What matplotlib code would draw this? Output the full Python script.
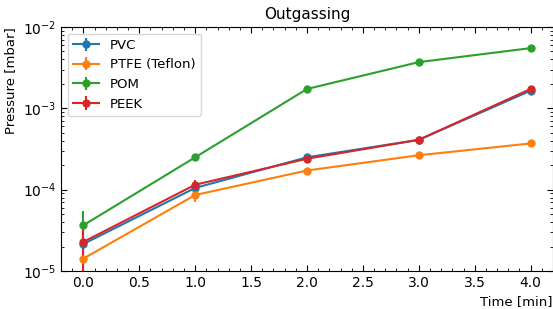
import numpy as np
import matplotlib
matplotlib.use('Agg')
import matplotlib.pyplot as plt
from matplotlib.ticker import MultipleLocator

t = [0, 1, 2, 3, 4]  # time [min]

pvc = [2.15e-5, 1.05e-4, 2.5e-4, 4.1e-4, 1.65e-3]
pvc_err = [3e-6, 8e-6, 1e-5, 1e-5, 5e-5]

ptfe = [1.42e-5, 8.6e-5, 1.72e-4, 2.65e-4, 3.7e-4]
ptfe_err = [3e-6, 1.6e-5, 8e-6, 8e-6, 1e-5]

pom = [3.65e-5, 2.5e-4, 1.73e-3, 3.7e-3, 5.5e-3]
pom_err = [1.8e-5, 1e-5, 5e-5, 5e-5, 1e-4]

peek = [2.28e-5, 1.15e-4, 2.4e-4, 4.1e-4, 1.73e-3]
peek_err = [1.6e-5, 1.6e-5, 1e-5, 1e-5, 5e-5]

fig = plt.figure(figsize=(5.53, 3.09), dpi=100)
ax = fig.add_axes([61/553, 1-271/309, 492/553, 244/309])

ax.errorbar(t, pvc, yerr=pvc_err, marker='o', ms=5, label='PVC')
ax.errorbar(t, ptfe, yerr=ptfe_err, marker='o', ms=5, label='PTFE (Teflon)')
ax.errorbar(t, pom, yerr=pom_err, marker='o', ms=5, label='POM')
ax.errorbar(t, peek, yerr=peek_err, marker='o', ms=5, label='PEEK')

ax.set_yscale('log')
ax.set_ylim(1e-5, 1e-2)
ax.set_xlim(-0.2, 4.2)
ax.xaxis.set_minor_locator(MultipleLocator(0.1))
ax.tick_params(which='both', direction='in', top=True, right=True, labelsize=10)
ax.tick_params(which='major', length=4)
ax.tick_params(which='minor', length=2)

ax.set_title('Outgassing', fontsize=11)
ax.set_ylabel('Pressure [mbar]', fontsize=9.5, loc='top')
ax.set_xlabel('Time [min]', fontsize=9.5, loc='right')
ax.legend(loc='upper left', fontsize=9.5)

plt.savefig('out.png', dpi=100)
